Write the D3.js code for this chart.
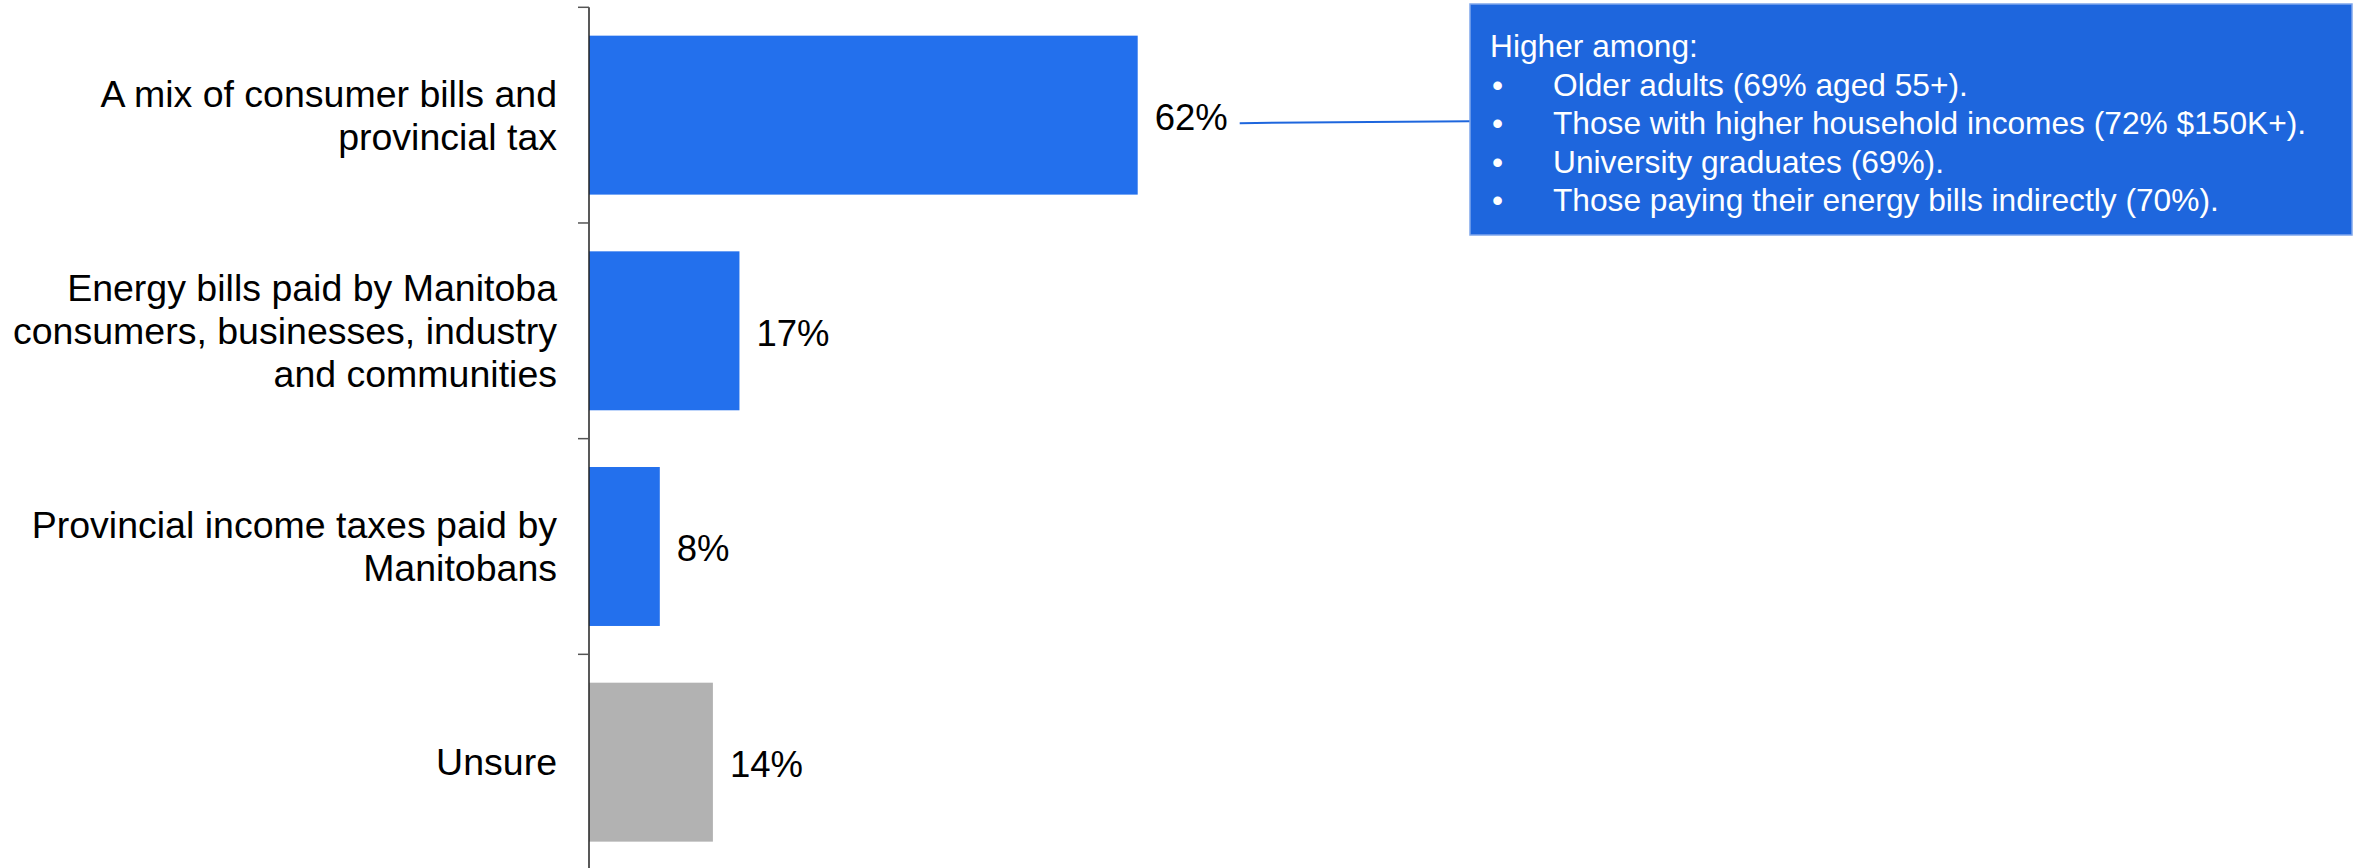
<!DOCTYPE html>
<html>
<head>
<meta charset="utf-8">
<script src="https://cdn.jsdelivr.net/npm/d3@7"></script>
<style>
  html, body { margin: 0; padding: 0; background: #ffffff; }
  svg { display: block; }
  text { font-family: "Liberation Sans", Arial, sans-serif; }
</style>
</head>
<body>
<svg id="chart" width="2359" height="868"></svg>
<script>
// Survey responses: who should pay for it
const categories = [
  "A mix of consumer bills and\nprovincial tax",
  "Energy bills paid by Manitoba\nconsumers, businesses, industry\nand communities",
  "Provincial income taxes paid by\nManitobans",
  "Unsure"
];
const shares = [62, 17, 8, 14];
const barColors = ["#2370ED", "#2370ED", "#2370ED", "#B2B2B2"];

// Callout attached to the top bar
const calloutTitle = "Higher among:";
const calloutItems = [
  "Older adults (69% aged 55+).",
  "Those with higher household incomes (72% $150K+).",
  "University graduates (69%).",
  "Those paying their energy bills indirectly (70%)."
];

const W = 2359, H = 868;
const axisX = 589;
const svg = d3.select("#chart");

const x = d3.scaleLinear().domain([0, 100]).range([axisX, axisX + 885]);
const y = d3.scaleBand()
  .domain(categories)
  .range([7.3, 870])
  .paddingInner(0.263)
  .paddingOuter(0.1315);

// Bars
svg.append("g").selectAll("rect")
  .data(categories)
  .join("rect")
  .attr("x", x(0))
  .attr("y", d => y(d))
  .attr("width", (d, i) => x(shares[i]) - x(0))
  .attr("height", y.bandwidth())
  .attr("fill", (d, i) => barColors[i]);

// Category axis: band-boundary ticks, labels drawn separately
const yAxis = d3.axisLeft(y).tickSize(0).tickFormat("");
const axisG = svg.append("g").attr("transform", `translate(${axisX},0)`).call(yAxis);
axisG.select(".domain").remove();
axisG.append("line")
  .attr("x1", 0).attr("x2", 0)
  .attr("y1", 7.3).attr("y2", H)
  .attr("stroke", "#222").attr("stroke-width", 1.5);
const bounds = categories.map(c => y(c) - y.step() * y.paddingInner() / 2);
axisG.selectAll("line.bound")
  .data(bounds)
  .join("line")
  .attr("class", "bound")
  .attr("x1", -11).attr("x2", 0)
  .attr("y1", d => d).attr("y2", d => d)
  .attr("stroke", "#555").attr("stroke-width", 1.5);

// Category labels, right-aligned, multi-line
const lineH = 43;
const labelG = svg.append("g");
categories.forEach(c => {
  const lines = c.split("\n");
  const cy = y(c) + y.bandwidth() / 2;
  const t = labelG.append("text")
    .attr("x", 557)
    .attr("text-anchor", "end")
    .attr("font-size", 37.5)
    .attr("fill", "#000");
  lines.forEach((ln, j) => {
    t.append("tspan")
      .attr("x", 557)
      .attr("y", cy + (j - (lines.length - 1) / 2) * lineH)
      .attr("dy", "0.35em")
      .text(ln);
  });
});

// Value labels
svg.append("g").selectAll("text")
  .data(categories)
  .join("text")
  .attr("x", (d, i) => x(shares[i]) + 17)
  .attr("y", d => y(d) + y.bandwidth() / 2 + 2)
  .attr("dy", "0.35em")
  .attr("font-size", 36.5)
  .attr("fill", "#000")
  .text((d, i) => shares[i] + "%");

// Callout box and connector
const box = { x0: 1470, y0: 4, x1: 2352, y1: 235 };
const topCy = y(categories[0]) + y.bandwidth() / 2;
svg.append("line")
  .attr("x1", x(shares[0]) + 102).attr("y1", topCy + 8)
  .attr("x2", box.x0).attr("y2", topCy + 6)
  .attr("stroke", "#1E66DD").attr("stroke-width", 2);

svg.append("rect")
  .attr("x", box.x0).attr("y", box.y0)
  .attr("width", box.x1 - box.x0).attr("height", box.y1 - box.y0)
  .attr("fill", "#1E66DD")
  .attr("stroke", "#7FA6EC").attr("stroke-width", 1.5);

const cFont = 31.7, cStep = 38.5, cTop = 46;
const callout = svg.append("g");
callout.append("text")
  .attr("x", 1490).attr("y", cTop).attr("dy", "0.35em")
  .attr("font-size", cFont).attr("fill", "#fff")
  .text(calloutTitle);
calloutItems.forEach((item, i) => {
  const yy = cTop + (i + 1) * cStep;
  callout.append("text")
    .attr("x", 1492).attr("y", yy).attr("dy", "0.35em")
    .attr("font-size", cFont).attr("fill", "#fff")
    .text("\u2022");
  callout.append("text")
    .attr("x", 1553).attr("y", yy).attr("dy", "0.35em")
    .attr("font-size", cFont).attr("fill", "#fff")
    .text(item);
});
</script>
</body>
</html>
